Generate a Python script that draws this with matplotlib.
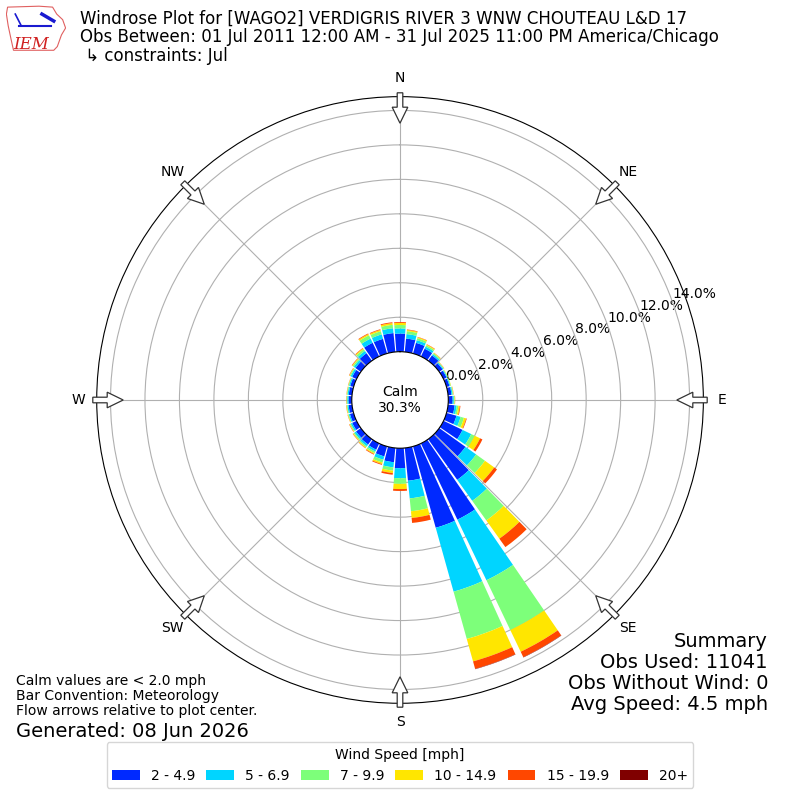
import numpy as np
import matplotlib
matplotlib.use("Agg")
import matplotlib.pyplot as plt
from matplotlib.patches import FancyArrow, Polygon

# direction bins (degrees, meteorological)
directions = np.arange(0, 360, 10)

# percent of obs by speed bin for each direction
spd_2_5 = [1.05, 0.78, 0.64, 0.50, 0.38, 0.24, 0.20, 0.18, 0.20, 0.25,
           0.38, 0.60, 1.22, 1.87, 2.90, 4.90, 4.90, 1.91, 1.16, 0.83,
           0.60, 0.40, 0.38, 0.34, 0.28, 0.22, 0.20, 0.19, 0.19, 0.20,
           0.28, 0.38, 0.54, 0.88, 0.88, 1.10]
spd_5_7 = [0.30, 0.26, 0.16, 0.13, 0.09, 0.06, 0.05, 0.05, 0.06, 0.07,
           0.12, 0.25, 0.56, 0.76, 1.50, 3.90, 3.85, 1.03, 0.58, 0.30,
           0.20, 0.12, 0.12, 0.11, 0.09, 0.07, 0.07, 0.07, 0.07, 0.07,
           0.10, 0.12, 0.16, 0.27, 0.27, 0.28]
spd_7_10 = [0.20, 0.17, 0.12, 0.09, 0.07, 0.03, 0.03, 0.03, 0.04, 0.05,
            0.10, 0.20, 0.22, 0.63, 1.40, 3.20, 2.85, 0.75, 0.33, 0.19,
            0.17, 0.10, 0.08, 0.07, 0.06, 0.04, 0.04, 0.04, 0.04, 0.04,
            0.06, 0.08, 0.12, 0.21, 0.19, 0.20]
spd_10_15 = [0.12, 0.07, 0.06, 0.05, 0.03, 0.02, 0.02, 0.02, 0.02, 0.02,
             0.08, 0.13, 0.35, 0.66, 1.30, 1.40, 1.35, 0.39, 0.30, 0.14,
             0.09, 0.06, 0.05, 0.04, 0.03, 0.03, 0.03, 0.02, 0.02, 0.02,
             0.03, 0.04, 0.06, 0.08, 0.08, 0.10]
spd_15_20 = [0.05, 0.03, 0.02, 0.02, 0.01, 0.01, 0.00, 0.00, 0.01, 0.01,
             0.04, 0.04, 0.15, 0.20, 0.60, 0.35, 0.45, 0.29, 0.11, 0.10,
             0.05, 0.04, 0.02, 0.02, 0.02, 0.01, 0.01, 0.01, 0.01, 0.01,
             0.02, 0.03, 0.03, 0.04, 0.04, 0.05]
spd_20p = [0.0] * 15 + [0.02, 0.02] + [0.0] * 19

speed_bins = [spd_2_5, spd_5_7, spd_7_10, spd_10_15, spd_15_20, spd_20p]
speed_labels = ["2 - 4.9", "5 - 6.9", "7 - 9.9", "10 - 14.9", "15 - 19.9", "20+"]
calm_pct = 30.3

title_lines = [
    "Windrose Plot for [WAGO2] VERDIGRIS RIVER 3 WNW CHOUTEAU L&D 17",
    "Obs Between: 01 Jul 2011 12:00 AM - 31 Jul 2025 11:00 PM America/Chicago",
    " \u21b3 constraints: Jul",
]
summary_lines = ["Summary", "Obs Used: 11041", "Obs Without Wind: 0",
                 "Avg Speed: 4.5 mph"]
notes = ["Calm values are < 2.0 mph", "Bar Convention: Meteorology",
         "Flow arrows relative to plot center."]

colors = plt.cm.jet(np.linspace(0, 1, 7))[1:]

fig = plt.figure(figsize=(8, 8), dpi=100)
ax = fig.add_axes([0.1209, 0.1209, 0.7583, 0.7583], projection="polar")
ax.set_theta_zero_location("N")
ax.set_theta_direction(-1)

theta = np.deg2rad(directions)
bottom = np.zeros(len(directions))
for vals, col, lab in zip(speed_bins, colors, speed_labels):
    vals = np.array(vals)
    ax.bar(theta, vals, width=np.deg2rad(8.8), bottom=bottom, color=col,
           label=lab, zorder=2, linewidth=0)
    bottom += vals

ax.set_ylim(0, 14.8)
ax.set_rorigin(-2.8)
ax.set_yticks(np.arange(0, 15, 2))
ax.set_yticklabels(["%.1f%%" % v for v in np.arange(0, 15, 2)], fontsize=10)
ax.set_rlabel_position(70)
ax.set_thetagrids(np.arange(0, 360, 45),
                  ["N", "NE", "E", "SE", "S", "SW", "W", "NW"], fontsize=10)
ax.tick_params(axis="x", pad=3)
ax.grid(True, color="#b0b0b0", lw=0.8)

ax.text(0.5, 0.5, "Calm\n%.1f%%" % calm_pct, transform=ax.transAxes,
        ha="center", va="center", fontsize=10, zorder=5)

# flow arrows around the rim
for a in np.deg2rad(np.arange(0, 360, 45)):
    r0, L = 0.384, 0.038
    x0 = 0.5 + r0 * np.sin(a)
    y0 = 0.5 + r0 * np.cos(a)
    arr = FancyArrow(x0, y0, -L * np.sin(a), -L * np.cos(a), width=0.007,
                     head_width=0.0195, head_length=0.02,
                     length_includes_head=True, transform=fig.transFigure,
                     facecolor="white", edgecolor="#333333", lw=0.9, zorder=10)
    fig.add_artist(arr)

fig.text(0.1, 0.988, "\n".join(title_lines), ha="left", va="top",
         fontsize=12, linespacing=1.05)

fig.text(0.02, 0.102, "\n".join(notes), ha="left", va="bottom", fontsize=10,
         linespacing=1.13)
fig.text(0.02, 0.074, "Generated: 08 Jun 2026", ha="left", va="bottom",
         fontsize=14)
fig.text(0.96, 0.107, "\n".join(summary_lines), ha="right", va="bottom",
         fontsize=14, linespacing=1.14)

fig.legend(loc="lower center", bbox_to_anchor=(0.5, 0.006), ncol=6,
           title="Wind Speed [mph]", fontsize=10, title_fontsize=10,
           columnspacing=0.8)

# small IEM logo
lax = fig.add_axes([0.008, 0.936, 0.074, 0.058])
lax.set_xlim(0, 1)
lax.set_ylim(0, 1)
lax.axis("off")
iowa = [(0.02, 0.95), (0.55, 0.97), (0.78, 0.95), (0.85, 0.80), (0.95, 0.68),
        (1.0, 0.50), (0.93, 0.35), (0.86, 0.10), (0.80, 0.02), (0.12, 0.02),
        (0.08, 0.25), (0.03, 0.55), (0.0, 0.80)]
lax.add_patch(Polygon(iowa, closed=True, fill=False, edgecolor="#e06060", lw=0.8))
lax.plot([0.22, 0.75], [0.55, 0.55], color="#1a1ad0", lw=1.5)
lax.plot([0.15, 0.25], [0.80, 0.55], color="#1a1ad0", lw=1.2)
lax.plot([0.60, 0.80], [0.80, 0.65], color="#1a1ad0", lw=2.5)
lax.text(0.12, 0.05, "IEM", color="#d02020", fontsize=12, family="serif",
         style="italic")

fig.savefig("out.png", dpi=100)
